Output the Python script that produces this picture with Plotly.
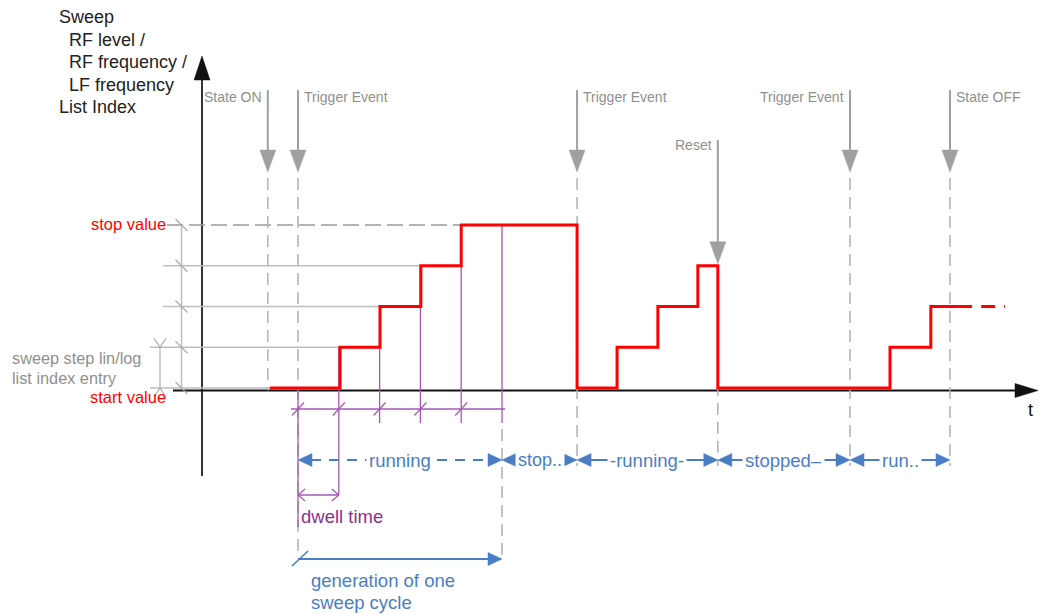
import plotly.graph_objects as go

# ---------------- data ----------------
# time unit = one dwell time, level unit = one sweep step
signal_t = [-0.69, 1.03, 2.01, 3.01, 4.0, 6.84, 7.82, 8.82, 9.8, 10.29, 14.51, 15.51, 16.18]
signal_level = [0, 1, 2, 3, 4, 0, 1, 2, 3, 0, 1, 2, 2]
continued_t = [16.18, 17.33]
continued_level = [2, 2]

event_t = [-0.74, 0.0, 6.84, 10.29, 13.53, 15.98]
event_names = ["State ON", "Trigger Event", "Trigger Event", "Reset", "Trigger Event", "State OFF"]

phase_bounds = [0.0, 5.0, 6.84, 10.29, 13.53, 15.98]
phase_names = ["running", "stop..", "-running-", "stopped\u2013", "run.."]

sweep_levels = [0, 1, 2, 3, 4]
level_names = ["start value", "stop value"]
dwell_marks = [0, 1, 2, 3, 4, 5]
cycle_span = [0.0, 5.0]

axis_title_lines = ["Sweep", "  RF level /", "  RF frequency /", "  LF frequency", "List Index"]
time_label = "t"
step_label_lines = ["sweep step lin/log", "list index entry"]
dwell_label = "dwell time"
cycle_label_lines = ["generation of one", "sweep cycle"]

# ---------------- layout helpers (pixel geometry of the page) ----------------
W, H = 1039, 614
PX_T, PX_L = 40.8, 40.75      # pixels per time unit / per level unit
X0, Y0 = 298, 388             # page pixel of t=0 / level 0


def xt(px):
    return (px - X0) / PX_T


def yl(py):
    return (Y0 - py) / PX_L


def dx(px):
    return px / PX_T


def dy(px):
    return px / PX_L


FONT = "Liberation Sans, Arial, sans-serif"
GRAY_LINE = "#bdbdbd"
GRAY_DASH = "#b0b0b0"
GRAY_ARROW = "#a0a0a0"
GRAY_TEXT = "#8f8f8f"
BLUE = "#4a7dc4"
PURPLE = "#a556b4"
PURPLE_TEXT = "#8e2f92"
RED = "#ff0000"

shapes = []
annotations = []


def line(x0, y0, x1, y1, color, width=1.5, dash=None, layer="below"):
    ln = dict(color=color, width=width)
    if dash:
        ln["dash"] = dash
    shapes.append(dict(type="line", x0=x0, y0=y0, x1=x1, y1=y1,
                       xref="x", yref="y", line=ln, layer=layer))


def poly(pts, color, layer="above"):
    path = "M " + " L ".join(f"{x:.5f},{y:.5f}" for x, y in pts) + " Z"
    shapes.append(dict(type="path", path=path, xref="x", yref="y",
                       fillcolor=color, line=dict(color=color, width=0.5), layer=layer))


def tri(tx, ty, direction, length, half, color, layer="above"):
    if direction == "down":
        pts = [(tx, ty), (tx - dx(half), ty + dy(length)), (tx + dx(half), ty + dy(length))]
    elif direction == "up":
        pts = [(tx, ty), (tx - dx(half), ty - dy(length)), (tx + dx(half), ty - dy(length))]
    elif direction == "left":
        pts = [(tx, ty), (tx + dx(length), ty + dy(half)), (tx + dx(length), ty - dy(half))]
    else:
        pts = [(tx, ty), (tx - dx(length), ty + dy(half)), (tx - dx(length), ty - dy(half))]
    poly(pts, color, layer)


def chevron(tx, ty, direction, length, half, color, width=1.2):
    if direction == "up":
        ends = [(tx - dx(half), ty - dy(length)), (tx + dx(half), ty - dy(length))]
    elif direction == "down":
        ends = [(tx - dx(half), ty + dy(length)), (tx + dx(half), ty + dy(length))]
    elif direction == "left":
        ends = [(tx + dx(length), ty + dy(half)), (tx + dx(length), ty - dy(half))]
    else:
        ends = [(tx - dx(length), ty + dy(half)), (tx - dx(length), ty - dy(half))]
    for ex, ey in ends:
        line(tx, ty, ex, ey, color, width)


def text(x, y, s, size, color, xanchor="left", bg=None):
    a = dict(x=x, y=y, xref="x", yref="y", text=s, showarrow=False,
             xanchor=xanchor, yanchor="middle",
             font=dict(family=FONT, size=size, color=color))
    if bg:
        a["bgcolor"] = bg
        a["borderpad"] = 2
    annotations.append(a)


# ---------------- coordinate axes ----------------
axis_x_t = xt(202)
line(axis_x_t, yl(476), axis_x_t, yl(76), "#333333", 2)
tri(axis_x_t, yl(56), "up", 24, 8, "#111111")
axis_level = yl(390.5)
line(xt(173), axis_level, xt(1016), axis_level, "#111111", 2)
tri(xt(1038), axis_level, "right", 23, 7, "#111111")
text(xt(1030), yl(410), time_label, 18, "#111111", "center")

for i, s in enumerate(axis_title_lines):
    text(xt(57), yl(17 + i * 22.5), s.replace(" ", "&nbsp;"), 18, "#222222")

# ---------------- level guides ----------------
for lv in sweep_levels:
    first_t = signal_t[sweep_levels.index(lv)]
    if lv == sweep_levels[-1]:
        line(xt(167), lv, event_t[2], lv, "#9a9a9a", 1.5, "16px,6px")
    else:
        start = xt(150) if lv <= 1 else xt(163)
        line(start, lv, first_t, lv, GRAY_LINE, 1.5)

bracket_t = xt(181.5)
line(bracket_t, sweep_levels[0], bracket_t, sweep_levels[-1], GRAY_LINE, 1.5)
for lv in sweep_levels:
    line(bracket_t - dx(6), lv + dy(6), bracket_t + dx(6), lv - dy(6), "#aaaaaa", 1.2)

step_arrow_t = xt(160)
line(step_arrow_t, sweep_levels[0], step_arrow_t, sweep_levels[1], GRAY_LINE, 1.5)
chevron(step_arrow_t, sweep_levels[1], "down", 9, 6, "#aaaaaa")
chevron(step_arrow_t, sweep_levels[0], "up", 9, 6, "#aaaaaa")

text(xt(168), sweep_levels[-1] + dy(1), level_names[1], 16.5, RED, "right")
text(xt(168), yl(397), level_names[0], 16.5, RED, "right")
text(xt(10), yl(358), step_label_lines[0], 16.3, GRAY_TEXT)
text(xt(10), yl(378), step_label_lines[1], 16.3, GRAY_TEXT)

# ---------------- event markers ----------------
label_left_of_line = {"State ON", "Reset"}
for i, (t, name) in enumerate(zip(event_t, event_names)):
    if name == "Reset":
        top, tip = yl(140), sweep_levels[3] + dy(2)
        label_y = yl(145)
    else:
        top, tip = yl(90), yl(172)
        label_y = yl(97)
    line(t, top, t, tip + dy(20), GRAY_ARROW, 2)
    tri(t, tip, "down", 22, 8, GRAY_ARROW)
    if i == 0:
        bottom = axis_level
    elif i == 1:
        bottom = yl(557)
    else:
        bottom = yl(466)
    line(t, tip - dy(6), t, bottom, GRAY_DASH, 1.5, "12px,7px")
    left = name in label_left_of_line or (i == 4)
    if left:
        text(t - dx(4), label_y, name, 14, GRAY_TEXT, "right")
    else:
        text(t + dx(4), label_y, name, 14, GRAY_TEXT, "left")

# ---------------- dwell construction (purple) ----------------
purple_y = yl(409)
for k in dwell_marks:
    top = min(k, sweep_levels[-1])
    if k == 0:
        bottom = yl(527)
    elif k == 1:
        bottom = yl(495)
    else:
        bottom = yl(423)
    line(k, top, k, bottom, PURPLE, 1.3)
    if k < dwell_marks[-1]:
        line(k - dx(6), purple_y - dy(6.5), k + dx(6), purple_y + dy(6.5), PURPLE, 1.2)
line(xt(291), purple_y, dwell_marks[-1] + dx(3), purple_y, PURPLE, 1.3)
line(dwell_marks[-1], yl(429), dwell_marks[-1], yl(557), GRAY_DASH, 1.5, "12px,7px")

dwell_y = yl(495)
line(dwell_marks[0], dwell_y, dwell_marks[1], dwell_y, PURPLE, 1.3)
chevron(dwell_marks[0], dwell_y, "left", 7, 6, PURPLE)
chevron(dwell_marks[1], dwell_y, "right", 7, 6, PURPLE)
text(xt(299), yl(516), dwell_label, 18.5, PURPLE_TEXT)

# ---------------- phase arrows (blue) ----------------
phase_y = yl(460)
for j, name in enumerate(phase_names):
    a, b = phase_bounds[j], phase_bounds[j + 1]
    tri(a, phase_y, "left", 14, 6.5, BLUE)
    tri(b, phase_y, "right", 14, 6.5, BLUE)
    line(a + dx(13), phase_y, b - dx(13), phase_y, BLUE, 2,
         "10px,8px" if j == 0 else None, layer="above")
    text((a + b) / 2, phase_y, name, 18.5 if j != 1 else 18, BLUE, "center", bg="white")

cycle_y = yl(559)
line(cycle_span[0], cycle_y, cycle_span[1] - dx(13), cycle_y, BLUE, 2)
tri(cycle_span[1], cycle_y, "right", 14, 6.5, BLUE)
line(cycle_span[0] - dx(6), cycle_y - dy(7), cycle_span[0] + dx(10), cycle_y + dy(8), BLUE, 1.5)
text(xt(309), yl(580), cycle_label_lines[0], 18.5, BLUE)
text(xt(309), yl(602), cycle_label_lines[1], 18.5, BLUE)

# ---------------- the signal itself ----------------
fig = go.Figure()
fig.add_trace(go.Scatter(x=signal_t, y=signal_level, mode="lines",
                         line=dict(shape="hv", color=RED, width=3),
                         hoverinfo="skip", showlegend=False))
fig.add_trace(go.Scatter(x=continued_t, y=continued_level, mode="lines",
                         line=dict(color=RED, width=3, dash="14px,9px"),
                         hoverinfo="skip", showlegend=False))

fig.update_layout(
    width=W, height=H,
    margin=dict(l=0, r=0, t=0, b=0, pad=0),
    paper_bgcolor="white", plot_bgcolor="white",
    xaxis=dict(range=[xt(0), xt(W)], visible=False, fixedrange=True),
    yaxis=dict(range=[yl(H), yl(0)], visible=False, fixedrange=True),
    shapes=shapes, annotations=annotations, showlegend=False,
    font=dict(family=FONT),
)
fig.write_html("out.html", config={"displayModeBar": False},
               post_script="document.body.style.margin='0';document.body.style.overflow='hidden';")
